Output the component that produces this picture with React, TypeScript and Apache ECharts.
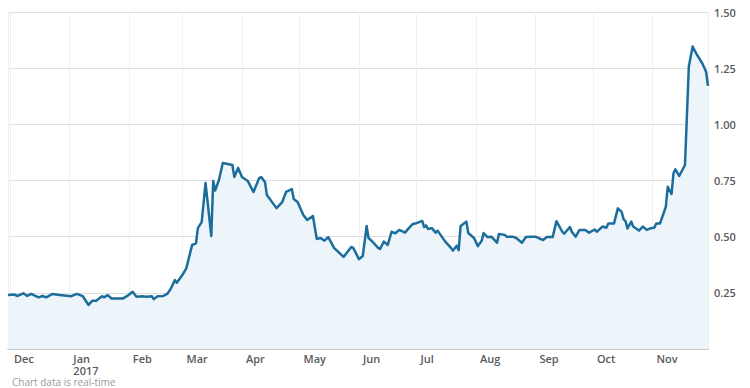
import React, { useEffect, useRef } from "react";
import * as echarts from "echarts";

const dates: string[] = [
  "2016-11-30", "2016-12-03", "2016-12-05", "2016-12-08", "2016-12-10", "2016-12-12", "2016-12-16", "2016-12-18", "2016-12-20", "2016-12-23", "2016-12-27",
  "2017-01-02", "2017-01-05", "2017-01-08", "2017-01-11", "2017-01-13", "2017-01-15", "2017-01-18", "2017-01-19", "2017-01-21", "2017-01-23", "2017-01-29", "2017-01-31",
  "2017-02-03", "2017-02-05", "2017-02-08", "2017-02-10", "2017-02-13", "2017-02-14", "2017-02-16", "2017-02-19", "2017-02-21", "2017-02-23", "2017-02-25", "2017-02-26",
  "2017-03-01", "2017-03-03", "2017-03-06", "2017-03-08", "2017-03-09", "2017-03-11", "2017-03-13", "2017-03-16", "2017-03-17", "2017-03-18", "2017-03-20", "2017-03-22", "2017-03-27", "2017-03-28", "2017-03-30",
  "2017-04-01", "2017-04-04", "2017-04-07", "2017-04-10", "2017-04-11", "2017-04-13", "2017-04-14", "2017-04-19", "2017-04-22", "2017-04-24", "2017-04-27", "2017-04-28", "2017-04-30",
  "2017-05-03", "2017-05-05", "2017-05-08", "2017-05-10", "2017-05-12", "2017-05-14", "2017-05-16", "2017-05-19", "2017-05-24", "2017-05-28", "2017-05-29",
  "2017-06-01", "2017-06-03", "2017-06-05", "2017-06-06", "2017-06-08", "2017-06-11", "2017-06-12", "2017-06-14", "2017-06-16", "2017-06-18", "2017-06-20", "2017-06-22", "2017-06-25", "2017-06-27", "2017-06-29",
  "2017-07-01", "2017-07-04", "2017-07-05", "2017-07-06", "2017-07-07", "2017-07-09", "2017-07-11", "2017-07-12", "2017-07-16", "2017-07-19", "2017-07-20", "2017-07-22", "2017-07-23", "2017-07-24", "2017-07-27", "2017-07-28", "2017-07-31",
  "2017-08-02", "2017-08-04", "2017-08-05", "2017-08-07", "2017-08-09", "2017-08-12", "2017-08-13", "2017-08-16", "2017-08-17", "2017-08-20", "2017-08-22", "2017-08-25", "2017-08-27", "2017-08-30",
  "2017-09-01", "2017-09-05", "2017-09-07", "2017-09-10", "2017-09-12", "2017-09-15", "2017-09-16", "2017-09-19", "2017-09-20", "2017-09-22", "2017-09-24", "2017-09-27", "2017-09-29",
  "2017-10-02", "2017-10-03", "2017-10-06", "2017-10-08", "2017-10-09", "2017-10-12", "2017-10-14", "2017-10-16", "2017-10-17", "2017-10-18", "2017-10-19", "2017-10-21", "2017-10-22", "2017-10-25", "2017-10-27", "2017-10-29", "2017-10-31",
  "2017-11-02", "2017-11-03", "2017-11-05", "2017-11-08", "2017-11-09", "2017-11-11", "2017-11-12", "2017-11-13", "2017-11-15", "2017-11-18", "2017-11-20", "2017-11-22", "2017-11-24", "2017-11-27", "2017-11-29", "2017-11-30",
];

const values: number[] = [
  0.240, 0.243, 0.236, 0.248, 0.236, 0.245, 0.230, 0.236, 0.230, 0.245, 0.240,
  0.235, 0.245, 0.235, 0.196, 0.215, 0.215, 0.235, 0.230, 0.240, 0.225, 0.225, 0.235,
  0.255, 0.233, 0.235, 0.233, 0.235, 0.222, 0.235, 0.236, 0.245, 0.270, 0.307, 0.295,
  0.330, 0.360, 0.463, 0.470, 0.538, 0.565, 0.739, 0.503, 0.748, 0.705, 0.752, 0.828, 0.819, 0.766, 0.806,
  0.766, 0.748, 0.699, 0.761, 0.765, 0.743, 0.685, 0.627, 0.654, 0.699, 0.712, 0.668, 0.654,
  0.596, 0.574, 0.592, 0.490, 0.494, 0.482, 0.498, 0.450, 0.410, 0.454, 0.450,
  0.400, 0.414, 0.547, 0.494, 0.478, 0.450, 0.445, 0.478, 0.463, 0.522, 0.515, 0.530, 0.518, 0.538, 0.556,
  0.560, 0.570, 0.543, 0.550, 0.534, 0.538, 0.518, 0.527, 0.478, 0.450, 0.438, 0.460, 0.440, 0.547, 0.567, 0.516, 0.494,
  0.458, 0.482, 0.516, 0.498, 0.500, 0.473, 0.512, 0.508, 0.500, 0.500, 0.494, 0.473, 0.498, 0.500,
  0.500, 0.485, 0.498, 0.498, 0.569, 0.522, 0.513, 0.543, 0.522, 0.500, 0.530, 0.530, 0.518,
  0.532, 0.522, 0.545, 0.540, 0.559, 0.559, 0.626, 0.610, 0.577, 0.570, 0.537, 0.567, 0.545, 0.527, 0.545, 0.530, 0.537,
  0.540, 0.559, 0.559, 0.633, 0.722, 0.690, 0.782, 0.800, 0.770, 0.819, 1.257, 1.346, 1.313, 1.272, 1.234, 1.171,
];

const monthNames: string[] = ["Jan", "Feb", "Mar", "Apr", "May", "Jun", "Jul", "Aug", "Sep", "Oct", "Nov", "Dec"];
const xMin = "2016-11-30";
const xMax = "2017-11-30";
const yTicks = { min: 0, max: 1.5, interval: 0.25 };
const footnote = "Chart data is real-time";

export default function App() {
  const ref = useRef<HTMLDivElement>(null);
  useEffect(() => {
    if (!ref.current) return;
    const chart = echarts.init(ref.current, undefined, { renderer: "svg" });
    const DAY = 86400000;
    chart.setOption({
      animation: false,
      backgroundColor: "#ffffff",
      title: {
        text: footnote,
        left: 12,
        top: 377,
        padding: 0,
        textStyle: { fontSize: 10, lineHeight: 10, fontWeight: "normal", color: "#9a9a9a", fontFamily: "Open Sans" },
      },
      grid: { left: 8, right: 42, top: 12, bottom: 39, containLabel: false },
      xAxis: {
        type: "time",
        min: xMin,
        max: xMax,
        splitNumber: 12,
        minInterval: 28 * DAY,
        maxInterval: 31 * DAY,
        axisLine: { show: true, lineStyle: { color: "#b9c3cb", width: 1.5 } },
        axisTick: { show: false },
        splitLine: { show: true, lineStyle: { color: "#eef0f2", width: 1 } },
        axisLabel: {
          show: true,
          interval: 0,
          hideOverlap: false,
          showMinLabel: true,
          showMaxLabel: true,
          align: "left",
          padding: [0, 0, 0, 4],
          margin: 3,
          lineHeight: 12,
          fontSize: 11,
          fontWeight: 600,
          color: "#5a5a5a",
          fontFamily: "Open Sans",
          formatter: (value: number) => {
            const d = new Date(value);
            if (d.getDate() !== 1) return "";
            const m = monthNames[d.getMonth()];
            return d.getMonth() === 0 ? m + "\n" + d.getFullYear() : m;
          },
        },
      },
      yAxis: {
        type: "value",
        position: "right",
        min: yTicks.min,
        max: yTicks.max,
        interval: yTicks.interval,
        axisLine: { show: false },
        axisTick: { show: false },
        splitLine: { show: true, lineStyle: { color: "#dedede", width: 1.2 } },
        axisLabel: {
          margin: 6,
          fontSize: 11,
          fontWeight: 600,
          color: "#5a5a5a",
          fontFamily: "Open Sans",
          formatter: (v: number) => (v === 0 ? "" : v.toFixed(2)),
        },
      },
      series: [
        {
          type: "line",
          data: dates.map((d, i) => [d, values[i]]),
          symbol: "none",
          smooth: false,
          lineStyle: { color: "#1b6e9c", width: 2.5, join: "round" },
          areaStyle: { color: "#eef5fa", opacity: 1 },
        },
      ],
    });
    return () => chart.dispose();
  }, []);
  return (
    <div
      ref={ref}
      style={{ position: "fixed", left: 0, top: 0, width: 750, height: 388 }}
    />
  );
}
